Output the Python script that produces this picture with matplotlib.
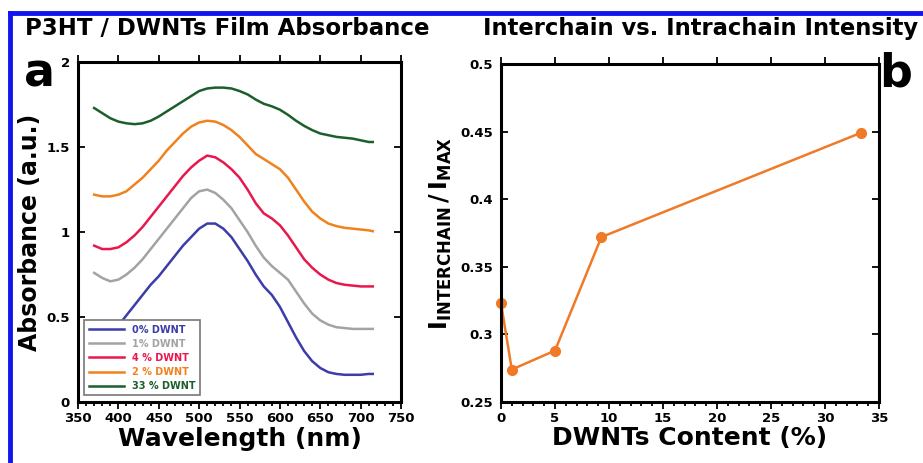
"""Absorbance spectra of P3HT / DWNTs films and interchain/intrachain ratio."""

import matplotlib.pyplot as plt
from matplotlib.lines import Line2D
from matplotlib.ticker import FuncFormatter, MultipleLocator

plt.rcParams["font.family"] = "DejaVu Sans"
plt.rcParams["font.weight"] = "bold"

# Panel a: absorbance spectra
WAVELENGTH_NM = [370, 380, 390, 400, 410, 420, 430, 440, 450, 460, 470, 480,
                 490, 500, 510, 520, 530, 540, 550, 560, 570, 580, 590, 600,
                 610, 620, 630, 640, 650, 660, 670, 680, 690, 700, 710, 715]
ABS_0 = [0.30, 0.35, 0.40, 0.45, 0.51, 0.57, 0.63, 0.69, 0.74, 0.80, 0.86, 0.92,
         0.97, 1.02, 1.05, 1.05, 1.02, 0.97, 0.90, 0.83, 0.75, 0.68, 0.63, 0.56,
         0.47, 0.38, 0.30, 0.24, 0.20, 0.175, 0.165, 0.16, 0.16, 0.16, 0.165, 0.165]
ABS_1 = [0.76, 0.73, 0.71, 0.72, 0.75, 0.79, 0.84, 0.90, 0.96, 1.02, 1.08, 1.14,
         1.20, 1.24, 1.25, 1.23, 1.19, 1.14, 1.07, 1.00, 0.92, 0.85, 0.80, 0.76,
         0.72, 0.65, 0.58, 0.52, 0.48, 0.455, 0.44, 0.435, 0.43, 0.43, 0.43, 0.43]
ABS_4 = [0.92, 0.90, 0.90, 0.91, 0.94, 0.98, 1.03, 1.09, 1.15, 1.21, 1.27, 1.33,
         1.38, 1.42, 1.45, 1.44, 1.41, 1.37, 1.32, 1.25, 1.17, 1.11, 1.08, 1.04,
         0.98, 0.91, 0.84, 0.79, 0.75, 0.72, 0.70, 0.69, 0.685, 0.68, 0.68, 0.68]
ABS_2 = [1.22, 1.21, 1.21, 1.22, 1.24, 1.28, 1.32, 1.37, 1.42, 1.48, 1.53, 1.58,
         1.62, 1.645, 1.655, 1.65, 1.63, 1.60, 1.56, 1.51, 1.46, 1.43, 1.40, 1.37,
         1.32, 1.25, 1.18, 1.12, 1.08, 1.05, 1.035, 1.025, 1.02, 1.015, 1.01, 1.005]
ABS_33 = [1.73, 1.70, 1.67, 1.65, 1.64, 1.635, 1.64, 1.655, 1.68, 1.71, 1.74, 1.77,
          1.80, 1.83, 1.845, 1.85, 1.85, 1.845, 1.83, 1.81, 1.78, 1.755, 1.74, 1.72,
          1.69, 1.655, 1.625, 1.60, 1.58, 1.57, 1.56, 1.555, 1.55, 1.54, 1.53, 1.53]

SPECTRA = [ABS_0, ABS_1, ABS_4, ABS_2, ABS_33]
SPECTRA_LABELS = ["0% DWNT", "1% DWNT", "4 % DWNT", "2 % DWNT", "33 % DWNT"]
SPECTRA_COLORS = ["#3c3caa", "#a3a3a3", "#e8184c", "#f0821e", "#1c5e2c"]

# Panel b: interchain / intrachain intensity
DWNT_CONTENT = [0, 1, 5, 9.3, 33.3]
INTENSITY_RATIO = [0.323, 0.274, 0.288, 0.372, 0.449]

BORDER_BLUE = "#1414f0"
ORANGE = "#f07a26"


def style_axis(axis, x_major, x_minor, y_major):
    for spine in axis.spines.values():
        spine.set_linewidth(2.2)
    axis.xaxis.set_major_locator(MultipleLocator(x_major))
    axis.xaxis.set_minor_locator(MultipleLocator(x_minor))
    axis.yaxis.set_major_locator(MultipleLocator(y_major))
    axis.yaxis.set_major_formatter(FuncFormatter(lambda v, _: f"{v:g}"))
    axis.tick_params(axis="x", which="both", direction="out", top=True, bottom=True,
                     labelsize=9.5, width=1.3, pad=2)
    axis.tick_params(axis="x", which="major", length=5)
    axis.tick_params(axis="x", which="minor", length=3, top=False)
    axis.tick_params(axis="y", which="major", direction="in", left=True, right=True,
                     length=5, width=1.3, labelsize=9.5, pad=6)


figure = plt.figure(figsize=(9.23, 4.63), dpi=100)

# Panel a
axis_a = figure.add_axes([0.0845, 0.1318, 0.350, 0.734])
for values, label, color in zip(SPECTRA, SPECTRA_LABELS, SPECTRA_COLORS):
    axis_a.plot(WAVELENGTH_NM, values, color=color, linewidth=1.8, label=label)
axis_a.set_xlim(350, 750)
axis_a.set_ylim(0, 2)
style_axis(axis_a, 50, 10, 0.5)
axis_a.set_xlabel("Wavelength (nm)", fontsize=18, fontweight="bold", labelpad=2)
axis_a.set_ylabel("Absorbance (a.u.)", fontsize=17, fontweight="bold", labelpad=3)

legend = axis_a.legend(loc="lower left", bbox_to_anchor=(0.005, 0.005), fontsize=7,
                       handlelength=3.6, labelspacing=0.42, borderpad=0.45,
                       fancybox=False, framealpha=1, edgecolor="#777777")
legend.get_frame().set_linewidth(1.2)
for text, color in zip(legend.get_texts(), SPECTRA_COLORS):
    text.set_color(color)
    text.set_fontweight("bold")

# Panel b
axis_b = figure.add_axes([0.5428, 0.1318, 0.4095, 0.730])
axis_b.plot(DWNT_CONTENT, INTENSITY_RATIO, color=ORANGE, linewidth=1.8,
            marker="o", markersize=7, clip_on=False)
axis_b.set_xlim(0, 35)
axis_b.set_ylim(0.25, 0.5)
style_axis(axis_b, 5, 1, 0.05)
axis_b.set_xlabel("DWNTs Content (%)", fontsize=18, fontweight="bold", labelpad=1)
axis_b.set_ylabel(r"$\mathbf{I}_{\mathbf{INTERCHAIN}}\,\mathbf{/}\,\mathbf{I}_{\mathbf{MAX}}$",
                  fontsize=17, labelpad=4)

# Titles and panel letters
figure.text(0.027, 0.938, "P3HT / DWNTs Film Absorbance", fontsize=16.5,
            fontweight="bold", ha="left", va="center")
figure.text(0.523, 0.938, "Interchain vs. Intrachain Intensity", fontsize=16.3,
            fontweight="bold", ha="left", va="center")
figure.text(0.026, 0.84, "a", fontsize=33, fontweight="bold", ha="left", va="center")
figure.text(0.953, 0.84, "b", fontsize=33, fontweight="bold", ha="left", va="center")

# Blue frame (left and top edges)
figure.add_artist(Line2D([0.011, 0.011], [0.0, 0.972], color=BORDER_BLUE, linewidth=3.5))
figure.add_artist(Line2D([0.011, 1.0], [0.972, 0.972], color=BORDER_BLUE, linewidth=3.5))

figure.savefig("out.png", dpi=100)
plt.close(figure)
